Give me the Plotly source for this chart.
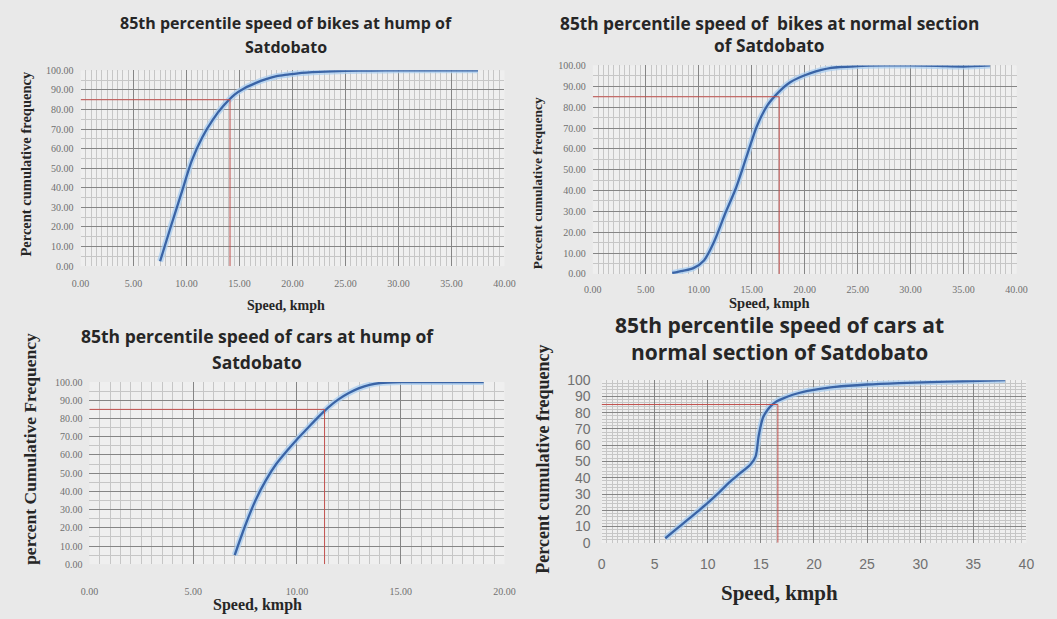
import plotly.graph_objects as go

# ---------------- data ----------------
title_lines = [
    ["85th percentile speed of bikes at hump of", "Satdobato"],
    ["85th percentile speed of  bikes at normal section", "of Satdobato"],
    ["85th percentile speed of cars at hump of", "Satdobato"],
    ["85th percentile speed of cars at", "normal section of Satdobato"],
]
y_titles = [
    "Percent cumulative frequency",
    "Percent cumulative frequency",
    "percent Cumulative Frequency",
    "Percent cumulative frequency",
]
x_title = "Speed, kmph"

bikes_hump_speed = [7.5, 8.5, 9.5, 10.5, 11.5, 12.5, 13.5, 14.5, 15.5, 16.5, 17.5,
                    18.5, 19.5, 20.5, 22.5, 25, 27.5, 30, 32.5, 35, 37.5]
bikes_hump_cum = [2.5, 20, 37, 54, 66, 75, 82, 87.5, 91, 93.5, 95.5,
                  97, 97.8, 98.5, 99.2, 99.7, 99.9, 100, 100, 100, 100]

bikes_normal_speed = [7.5, 8.5, 9.5, 10.5, 11.5, 12.5, 13.5, 14.5, 15.5, 16.5, 17.5,
                      18.5, 19.5, 20.5, 22.5, 25, 27.5, 30, 32.5, 35, 37.5]
bikes_normal_cum = [0.5, 1.5, 2.8, 6.5, 16, 29, 41, 56, 71, 81, 87,
                    91.5, 94.2, 96.2, 98.8, 99.7, 100, 100, 99.8, 99.5, 100]

cars_hump_speed = [7.0, 7.5, 8.0, 8.5, 9.0, 9.5, 10.0, 10.5, 11.0, 11.5, 12.0,
                   12.5, 13.0, 13.5, 14.0, 15.0, 16.0, 17.0, 18.0, 19.0]
cars_hump_cum = [5, 21, 35, 46, 55, 62, 68.5, 74.5, 80.5, 86, 90.5,
                 94, 96.7, 98.5, 99.5, 100, 100, 100, 100, 100]

cars_normal_speed = [6, 7, 8, 9, 10, 11, 12, 13, 14, 14.5, 14.8, 15.2, 15.6, 16,
                     16.5, 17, 18, 19, 20, 22, 25, 28, 31, 34, 38]
cars_normal_cum = [2.8, 8.2, 13.6, 19, 24.5, 30.5, 37, 42.5, 48, 53, 66, 77, 81.5, 84.5,
                   87, 88.5, 91, 92.8, 94, 95.8, 97.3, 98.2, 98.8, 99.3, 100]

p85_speed = [14.1, 17.6, 11.33, 16.6]
p85_level = 85

x_ranges = [[0, 40], [0, 40], [0, 20], [0, 40]]
series = [
    (bikes_hump_speed, bikes_hump_cum),
    (bikes_normal_speed, bikes_normal_cum),
    (cars_hump_speed, cars_hump_cum),
    (cars_normal_speed, cars_normal_cum),
]

# ---------------- layout geometry ----------------
W, H = 1057, 619
px = lambda v: v / W
py = lambda v: 1 - v / H
boxes = [  # left, right, top, bottom in pixels
    (73, 505, 64, 265),
    (595, 1027, 59, 273),
    (82, 505, 384, 571),
    (604, 1037, 382, 549),
]
# centre x, line1 y, line2 y, font size
title_pos = [(282, 15, 40, 16), (775, 15.5, 38.5, 17.3), (253, 337, 363, 17.5), (785, 325, 353, 21)]
# centre x, centre y, font size
xtitle_pos = [(282, 305, 14), (775, 303, 14.5), (253, 613, 16), (785, 601, 21)]
ytitle_pos = [(17, 160, 14.5), (539, 180, 13.5), (22, 453, 17.5), (544, 463, 18)]
x_standoff = [10, 8, 20, 11]
y_standoff = [6, 6, 6, 10]

fig = go.Figure()
line_col = "#3a64a6"
glow_col = "rgba(170,205,240,0.75)"
red_col = "#c0504d"

for i, (xs, ys) in enumerate(series):
    ax = "" if i == 0 else str(i + 1)
    xa, ya = "x" + ax, "y" + ax
    fig.add_trace(go.Scatter(x=xs, y=ys, xaxis=xa, yaxis=ya, mode="lines",
                             line=dict(color=glow_col, width=6, shape="spline", smoothing=0.8),
                             hoverinfo="skip", showlegend=False))
    fig.add_trace(go.Scatter(x=xs, y=ys, xaxis=xa, yaxis=ya, mode="lines",
                             line=dict(color=line_col, width=2.3, shape="spline", smoothing=0.8),
                             showlegend=False))
    fig.add_trace(go.Scatter(x=[x_ranges[i][0], p85_speed[i], p85_speed[i]],
                             y=[p85_level, p85_level, 0], xaxis=xa, yaxis=ya, mode="lines",
                             line=dict(color=red_col, width=1), showlegend=False))

    l, r, t, b = boxes[i]
    sans = (i == 3)
    tickfont = dict(family="Liberation Sans" if sans else "Liberation Serif",
                    size=14 if sans else 10, color="#707070")
    ydt_minor = 2 if i == 3 else 5
    fig.update_layout(**{
        "xaxis" + ax: dict(domain=[px(l), px(r)], anchor=ya, range=x_ranges[i],
                           dtick=5, tickformat="d" if sans else ".2f",
                           showgrid=True, gridcolor="#858585", gridwidth=1,
                           minor=dict(dtick=0.5, showgrid=True, gridcolor="#c6c6c6", gridwidth=1),
                           zeroline=False, showline=False, tickfont=tickfont, ticks="",
                           ticklabelstandoff=x_standoff[i], fixedrange=True),
        "yaxis" + ax: dict(domain=[py(b), py(t)], anchor=xa, range=[0, 100],
                           dtick=10, tickformat="d" if sans else ".2f",
                           showgrid=True, gridcolor="#858585", gridwidth=1,
                           minor=dict(dtick=ydt_minor, showgrid=True, gridcolor="#c6c6c6", gridwidth=1),
                           zeroline=False, showline=False, tickfont=tickfont, ticks="",
                           ticklabelstandoff=y_standoff[i], fixedrange=True),
    })

    tx, ty1, ty2, ts = title_pos[i]
    for line_text, ly in zip(title_lines[i], (ty1, ty2)):
        fig.add_annotation(x=px(tx), y=py(ly), xref="paper", yref="paper",
                           text="<b>" + line_text + "</b>",
                           showarrow=False, xanchor="center", yanchor="middle",
                           font=dict(family="Open Sans", size=ts, color="#262626"))
    xx, xy, xs_ = xtitle_pos[i]
    fig.add_annotation(x=px(xx), y=py(xy), xref="paper", yref="paper", text="<b>" + x_title + "</b>",
                       showarrow=False, xanchor="center", yanchor="middle",
                       font=dict(family="Liberation Serif", size=xs_, color="#262626"))
    yx, yy, ys_ = ytitle_pos[i]
    fig.add_annotation(x=px(yx), y=py(yy), xref="paper", yref="paper", text="<b>" + y_titles[i] + "</b>",
                       showarrow=False, xanchor="center", yanchor="middle", textangle=-90,
                       font=dict(family="Liberation Serif", size=ys_, color="#262626"))

fig.update_layout(width=W, height=H, margin=dict(l=0, r=0, t=0, b=0),
                  paper_bgcolor="#e9e9e9", plot_bgcolor="#efefef", showlegend=False)

fig.write_html("out.html")
